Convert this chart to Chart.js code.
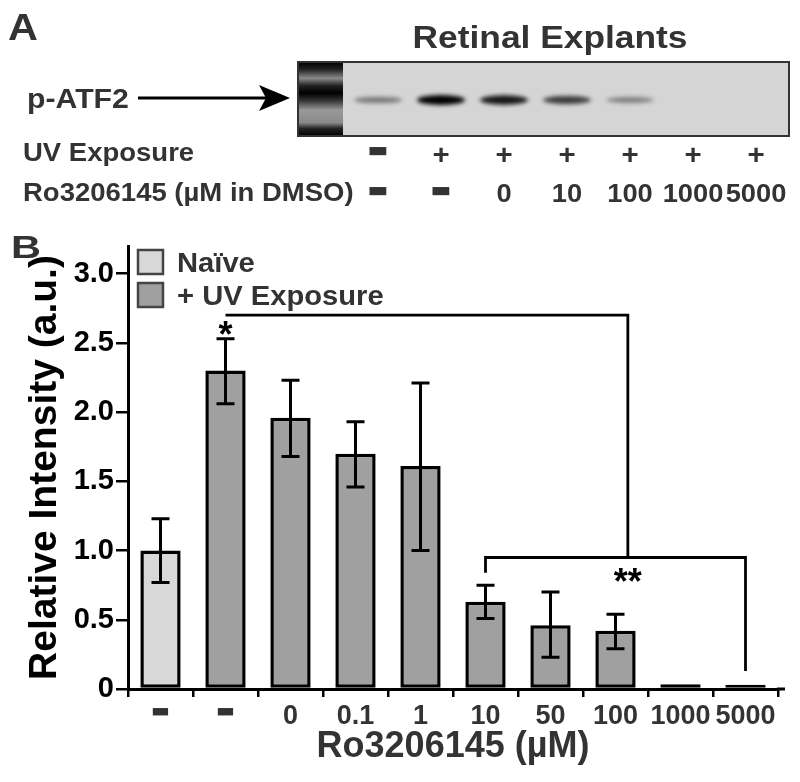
<!DOCTYPE html>
<html><head><meta charset="utf-8">
<script src="https://cdn.jsdelivr.net/npm/chart.js@4.4.1/dist/chart.umd.min.js"></script>
<style>html,body{margin:0;padding:0;background:#fff;}#wrap{width:800px;height:782px;position:relative;}</style>
</head><body><div id="wrap"><canvas id="c" width="800" height="782"></canvas></div>
<script>
// ---------- DATA ----------
const categories = ['▬','▬','0','0.1','1','10','50','100','1000','5000'];
const seriesNames = ['Naïve','+ UV Exposure'];
const naiveValues = [1.00,null,null,null,null,null,null,null,null,null];
const uvValues    = [null,2.30,1.96,1.70,1.61,0.63,0.46,0.42,0.035,0.03];
const errLow      = [0.77,2.06,1.68,1.46,1.00,0.51,0.23,0.29,null,null];
const errHigh     = [1.23,2.53,2.23,1.93,2.21,0.75,0.70,0.54,null,null];
const yTickValues = [0,0.5,1.0,1.5,2.0,2.5,3.0];
// significance brackets (category index / value units)
const upperBracket = {from:1, to:7.19, level:2.70, dropTo:0.95, label:'*', labelAt:1, labelLevel:2.61};
const lowerBracket = {from:5, to:9, level:0.95, leftDrop:0.84, rightDrop:0.13, label:'**', labelAt:7.19, labelLevel:0.82};
// panel A (western blot)
const blotTitle = 'Retinal Explants';
const blotProtein = 'p-ATF2';
const rowLabels = ['UV Exposure','Ro3206145 (\u00b5M in DMSO)'];
const laneUV   = ['▬','+','+','+','+','+','+'];
const laneDose = ['▬','▬','0','10','100','1000','5000'];
const bandIntensity = [0.35,1.0,0.88,0.68,0.3,0,0];

// ---------- STYLE ----------
const FONT = '"Liberation Sans", Arial, Helvetica, sans-serif';
const naiveColor = '#d8d8d8';
const uvColor = '#a0a0a0';
const textGray = '#333333';

function hText(ctx, txt, x, y, font, color, align, sx){
  ctx.save();
  ctx.font = font; ctx.fillStyle = color; ctx.textAlign = 'left'; ctx.textBaseline = 'alphabetic';
  const w = ctx.measureText(txt).width * sx;
  let x0 = x; if (align === 'center') x0 = x - w/2; else if (align === 'right') x0 = x - w;
  ctx.translate(x0, y); ctx.scale(sx, 1); ctx.fillText(txt, 0, 0);
  ctx.restore();
}

const panelA = {
  id:'panelA',
  beforeDraw(chart){
    const ctx = chart.ctx;
    ctx.save();
    ctx.fillStyle = '#fff'; ctx.fillRect(0,0,chart.width,chart.height);
    // panel letters
    hText(ctx,'A',8,40,'bold 36px '+FONT,textGray,'left',1.15);
    hText(ctx,'B',11,258,'bold 32px '+FONT,textGray,'left',1.3);
    hText(ctx,blotTitle,550,48,'bold 31px '+FONT,textGray,'center',1.14);
    // blot
    const bx=298, by=62, bw=491, bh=74;
    ctx.fillStyle = '#d5d5d5'; ctx.fillRect(bx,by,bw,bh);
    // ladder lane
    const lg = ctx.createLinearGradient(0,by,0,by+bh);
    lg.addColorStop(0,'#000'); lg.addColorStop(0.1,'#222'); lg.addColorStop(0.22,'#8a8a8a');
    lg.addColorStop(0.32,'#222'); lg.addColorStop(0.42,'#000'); lg.addColorStop(0.52,'#333');
    lg.addColorStop(0.65,'#999'); lg.addColorStop(0.82,'#8a8a8a'); lg.addColorStop(0.9,'#222'); lg.addColorStop(1,'#000');
    ctx.fillStyle = lg; ctx.fillRect(bx,by,45,bh);
    // bands
    ctx.filter = 'blur(2px)';
    bandIntensity.forEach((v,i)=>{
      if(!v) return;
      const cx = 378 + i*63;
      ctx.fillStyle = 'rgba(0,0,0,'+(0.15+0.85*v).toFixed(2)+')';
      const h = 4 + 6*v;
      ctx.beginPath();
      ctx.ellipse(cx, 100, 24, h/2, 0, 0, Math.PI*2);
      ctx.fill();
    });
    ctx.filter = 'none';
    ctx.strokeStyle = '#333'; ctx.lineWidth = 2; ctx.strokeRect(bx,by,bw,bh);
    // protein label + arrow
    hText(ctx,blotProtein,27,108,'bold 27px '+FONT,textGray,'left',1.12);
    ctx.strokeStyle = '#000'; ctx.lineWidth = 3;
    ctx.beginPath(); ctx.moveTo(138,98); ctx.lineTo(268,98); ctx.stroke();
    ctx.fillStyle = '#000'; ctx.beginPath();
    ctx.moveTo(290,98); ctx.lineTo(259,85); ctx.lineTo(266,98); ctx.lineTo(259,111); ctx.closePath(); ctx.fill();
    // row labels
    hText(ctx,rowLabels[0],23,161,'bold 25px '+FONT,textGray,'left',1.1);
    hText(ctx,rowLabels[1],23,201,'bold 25px '+FONT,textGray,'left',1.1);
    laneUV.forEach((s,i)=>{
      const cx = 378 + i*63;
      if (s==='▬') hText(ctx,s,cx,157,'bold 22px "DejaVu Sans"',textGray,'center',1);
      else hText(ctx,s,cx,164,'bold 28px '+FONT,textGray,'center',1.05);
    });
    laneDose.forEach((s,i)=>{
      const cx = 378 + i*63;
      if (s==='▬') hText(ctx,s,cx,197,'bold 22px "DejaVu Sans"',textGray,'center',1);
      else hText(ctx,s,cx,202,'bold 26px '+FONT,textGray,'center',1.05);
    });
    ctx.restore();
  }
};

const extras = {
  id:'extras',
  afterDatasetsDraw(chart){
    const ctx = chart.ctx, x = chart.scales.x, y = chart.scales.y, ca = chart.chartArea;
    ctx.save();
    // error bars
    ctx.strokeStyle = '#000'; ctx.lineWidth = 3;
    categories.forEach((c,i)=>{
      if (errLow[i]==null) return;
      const px = x.getPixelForValue(i), yl = y.getPixelForValue(errLow[i]), yh = y.getPixelForValue(errHigh[i]);
      ctx.beginPath();
      ctx.moveTo(px,yl); ctx.lineTo(px,yh);
      ctx.moveTo(px-9,yl); ctx.lineTo(px+9,yl);
      ctx.moveTo(px-9,yh); ctx.lineTo(px+9,yh);
      ctx.stroke();
    });
    // axis extension
    ctx.lineWidth = 3; ctx.beginPath(); ctx.moveTo(ca.right-1,ca.bottom); ctx.lineTo(ca.right+7,ca.bottom); ctx.stroke();
    // brackets
    ctx.lineWidth = 2.8;
    const ub = upperBracket, lb = lowerBracket;
    ctx.beginPath();
    ctx.moveTo(x.getPixelForValue(ub.from), y.getPixelForValue(ub.level));
    ctx.lineTo(x.getPixelForValue(ub.to), y.getPixelForValue(ub.level));
    ctx.lineTo(x.getPixelForValue(ub.to), y.getPixelForValue(ub.dropTo));
    ctx.stroke();
    ctx.beginPath();
    ctx.moveTo(x.getPixelForValue(lb.from), y.getPixelForValue(lb.leftDrop));
    ctx.lineTo(x.getPixelForValue(lb.from), y.getPixelForValue(lb.level));
    ctx.lineTo(x.getPixelForValue(lb.to), y.getPixelForValue(lb.level));
    ctx.lineTo(x.getPixelForValue(lb.to), y.getPixelForValue(lb.rightDrop));
    ctx.stroke();
    ctx.fillStyle = '#000'; ctx.font = 'bold 36px '+FONT; ctx.textAlign='center'; ctx.textBaseline='alphabetic';
    ctx.fillText(ub.label, x.getPixelForValue(ub.labelAt), y.getPixelForValue(ub.labelLevel)+19);
    ctx.fillText(lb.label, x.getPixelForValue(lb.labelAt), y.getPixelForValue(lb.labelLevel)+19);
    // legend
    const lx = ca.left + 10;
    [[naiveColor,seriesNames[0],250],[uvColor,seriesNames[1],283]].forEach(([col,name,ty])=>{
      ctx.fillStyle = col; ctx.fillRect(lx,ty,25,24);
      ctx.strokeStyle = '#444'; ctx.lineWidth = 2.5; ctx.strokeRect(lx,ty,25,24);
      hText(ctx,name,lx+39,ty+22,'bold 27px '+FONT,textGray,'left',1.08);
    });
    ctx.restore();
  }
};

new Chart(document.getElementById('c'), {
  type:'bar',
  data:{
    labels: categories,
    datasets:[
      {label:seriesNames[0], data:naiveValues, backgroundColor:naiveColor, borderColor:'#000', borderWidth:3.5, borderSkipped:false, skipNull:true, barPercentage:0.62, categoryPercentage:1},
      {label:seriesNames[1], data:uvValues, backgroundColor:uvColor, borderColor:'#000', borderWidth:3.5, borderSkipped:false, skipNull:true, barPercentage:0.62, categoryPercentage:1}
    ]
  },
  options:{
    responsive:false, animation:false, devicePixelRatio:1,
    layout:{padding:{top:246,right:22,left:0,bottom:0}},
    plugins:{legend:{display:false}, tooltip:{enabled:false}},
    scales:{
      x:{
        grid:{display:true, drawOnChartArea:false, drawTicks:true, tickLength:8, color:'#000', lineWidth:2.5},
        border:{display:true, color:'#000', width:3},
        ticks:{
          padding:3, maxRotation:0, autoSkip:false,
          color:textGray,
          font:(ctx)=> (categories[ctx.index]==='▬') ? {family:'"DejaVu Sans"', size:20, weight:'bold'} : {family:FONT, size:27, weight:'bold'}
        },
        title:{display:true, text:'Ro3206145 (\u00b5M)', color:textGray, font:{family:FONT, size:36, weight:'bold'}, padding:{top:0,bottom:13}},
        afterFit(s){ s.height = 93; }
      },
      y:{
        min:0, max:3.2,
        afterBuildTicks(s){ s.ticks = yTickValues.map(v=>({value:v})); },
        grid:{display:true, drawOnChartArea:false, drawTicks:true, tickLength:12, color:'#000', lineWidth:2.5},
        border:{display:true, color:'#000', width:3},
        ticks:{padding:2, color:'#000', font:{family:FONT, size:29, weight:'bold'}, callback:(v)=> v===0 ? '0' : Number(v).toFixed(1)},
        title:{display:true, text:'Relative Intensity (a.u.)', color:'#000', font:{family:FONT, size:39, weight:'bold'}, padding:{top:22,bottom:0}},
        afterFit(s){ s.width = 128; }
      }
    }
  },
  plugins:[panelA, extras]
});
</script></body></html>
